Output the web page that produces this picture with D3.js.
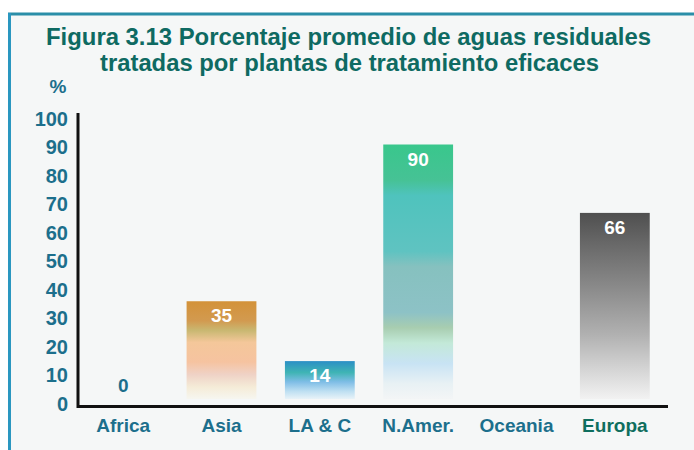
<!DOCTYPE html>
<html><head><meta charset="utf-8">
<script src="https://cdn.jsdelivr.net/npm/d3@7"></script>
<style>body{margin:0;background:#fff}svg{display:block}</style>
</head><body>
<script>
const categories = ["Africa","Asia","LA & C","N.Amer.","Oceania","Europa"];
const values = [0, 35, 14, 90, null, 66];
const valueLabels = ["0","35","14","90","","66"];
const yTicks = [0,10,20,30,40,50,60,70,80,90,100];

// gradient stops per bar (style)
const barStops = {
  "Asia": [[0,"#d39239"],[0.2,"#d29a50"],[0.3,"#c9b872"],[0.42,"#f4c79a"],[0.62,"#f6c3a0"],[0.75,"#efd2c6"],[0.88,"#f5ecd8"],[1,"#f6f6f0"]],
  "LA & C": [[0,"#2b8fc6"],[0.3,"#3fb4b4"],[0.55,"#7fbde6"],[0.8,"#bfe0f2"],[1,"#e8f3f8"]],
  "N.Amer.": [[0,"#39c78c"],[0.14,"#46c295"],[0.2,"#4fc3bd"],[0.42,"#5fc3c1"],[0.48,"#86c1bf"],[0.66,"#8dc2c6"],[0.72,"#a8cdb0"],[0.78,"#c3e9d8"],[0.86,"#c8e3f4"],[0.94,"#e8f1f4"],[1,"#f3f5f6"]],
  "Europa": [[0,"#4f4f4f"],[0.15,"#666"],[0.4,"#8a8a8a"],[0.65,"#b0b0b0"],[0.85,"#d6d6d6"],[1,"#f2f2f2"]]
};

const W = 694, H = 450;
const FONT = "'Liberation Sans', Arial, sans-serif";
const svg = d3.select("body").append("svg").attr("width", W).attr("height", H)
  .style("font-family", FONT);

// frame
svg.append("rect").attr("x", 10).attr("y", 14).attr("width", W - 10).attr("height", H - 14).attr("fill", "#f5f7f7");
svg.append("line").attr("x1", 8).attr("x2", W).attr("y1", 14).attr("y2", 14).attr("stroke", "#2a8ea8").attr("stroke-width", 3);
svg.append("line").attr("x1", 9.5).attr("x2", 9.5).attr("y1", 13).attr("y2", H).attr("stroke", "#2a97c0").attr("stroke-width", 3);

// title
const titleColor = "#0e6a62";
svg.append("text").attr("x", 46).attr("y", 45)
  .attr("font-size", 23).attr("font-weight", "bold").attr("fill", titleColor)
  .attr("textLength", 605).attr("lengthAdjust", "spacingAndGlyphs")
  .text("Figura 3.13 Porcentaje promedio de aguas residuales");
svg.append("text").attr("x", 100).attr("y", 71)
  .attr("font-size", 23).attr("font-weight", "bold").attr("fill", titleColor)
  .attr("textLength", 499).attr("lengthAdjust", "spacingAndGlyphs")
  .text("tratadas por plantas de tratamiento eficaces");

const y = d3.scaleLinear().domain([0, 100]).range([404, 119]);
const x = d3.scaleBand().domain(categories).range([74, 664]).paddingInner(0.29).paddingOuter(0.145);

const tickColor = "#1c6f8c";
svg.append("text").attr("x", 58).attr("y", 93).attr("text-anchor", "middle")
  .attr("font-size", 19).attr("font-weight", "bold").attr("fill", tickColor).text("%");

// y axis
const yAxis = svg.append("g").attr("transform", "translate(78,0)")
  .call(d3.axisLeft(y).tickValues(yTicks).tickSize(0).tickPadding(10));
yAxis.select(".domain").remove();
yAxis.selectAll("text").attr("font-size", 20).attr("font-weight", "bold").attr("fill", tickColor)
  .attr("font-family", FONT);

// gradients
const defs = svg.append("defs");
categories.forEach((c, i) => {
  if (!barStops[c]) return;
  const g = defs.append("linearGradient").attr("id", "g" + i).attr("x1", 0).attr("x2", 0).attr("y1", 0).attr("y2", 1);
  barStops[c].forEach(s => g.append("stop").attr("offset", s[0]).attr("stop-color", s[1]));
});

// bars
const barData = categories.map((c, i) => ({c, v: values[i], label: valueLabels[i], i}));
svg.selectAll("rect.bar").data(barData.filter(d => d.v > 0)).enter().append("rect")
  .attr("class", "bar")
  .attr("x", d => x(d.c)).attr("width", x.bandwidth())
  .attr("y", d => y(d.v) - 3).attr("height", d => y(0) - y(d.v) - 2)
  .attr("fill", d => "url(#g" + d.i + ")");

// value labels
svg.selectAll("text.val").data(barData.filter(d => d.label !== "")).enter().append("text")
  .attr("class", "val")
  .attr("x", d => x(d.c) + x.bandwidth() / 2)
  .attr("y", d => d.v > 0 ? y(d.v) + 18 : y(0) - 12)
  .attr("text-anchor", "middle").attr("font-size", 19).attr("font-weight", "bold")
  .attr("fill", d => d.v > 0 ? "#ffffff" : tickColor)
  .text(d => d.label);

// axes lines
svg.append("line").attr("x1", 78).attr("x2", 78).attr("y1", 113).attr("y2", 408).attr("stroke", "#111").attr("stroke-width", 3);
svg.append("line").attr("x1", 77).attr("x2", 668).attr("y1", 406.5).attr("y2", 406.5).attr("stroke", "#111").attr("stroke-width", 3);

// x labels
const xAxis = svg.append("g").attr("transform", "translate(0,407)")
  .call(d3.axisBottom(x).tickSize(0).tickPadding(12));
xAxis.select(".domain").remove();
xAxis.selectAll("text").attr("font-size", 19).attr("font-weight", "bold")
  .attr("font-family", FONT)
  .attr("fill", d => d === "Europa" ? "#0e6e5e" : tickColor);
</script>
</body></html>
